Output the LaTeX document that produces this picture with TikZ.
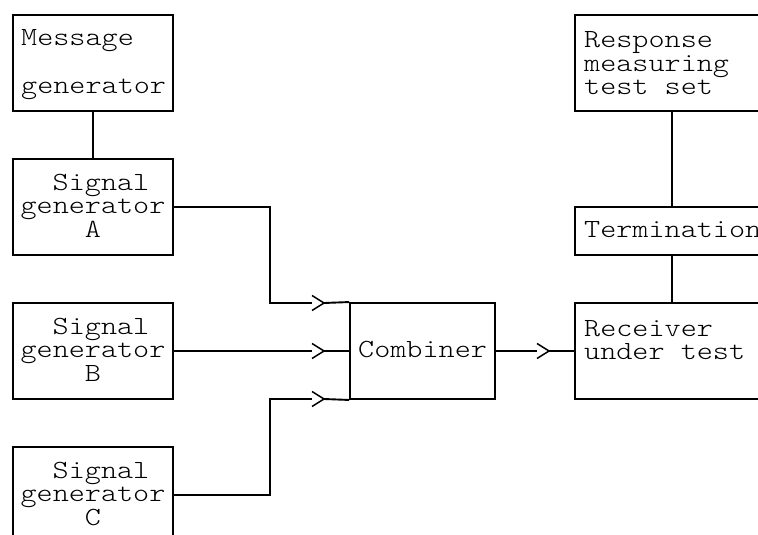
\documentclass[tikz,border=0pt]{standalone}
\usepackage{fontspec}
\newfontfamily\courfont{Latin Modern Mono Light}[FakeStretch=1.17]
\begin{document}
\begin{tikzpicture}[x=1pt,y=-1pt,
  box/.style={draw, line width=1.9pt, inner sep=0pt, minimum width=160pt, minimum height=96pt},
  txt/.style={font=\courfont\fontsize{26.2}{23.5}\selectfont, inner sep=0pt},
  wire/.style={line width=1.9pt},
  chev/.style={line width=1.5pt, line join=miter}]
\useasboundingbox (0,0) rectangle (758,535);
\clip (0,0) rectangle (758,535);
% boxes
\node[box] (msg) at (93,63) {};
\node[box] (sgA) at (93,207) {};
\node[box] (sgB) at (93,351) {};
\node[box] (sgC) at (93,495) {};
\node[box, minimum width=145pt] (comb) at (422.5,351) {};
\node[box, minimum width=225pt] (recv) at (687.5,351) {};
\node[box, minimum width=225pt] (resp) at (687.5,63) {};
\node[box, minimum width=225pt, minimum height=48pt] (term) at (687.5,231) {};
% texts
\node[txt, anchor=base west] (t1) at (21,46) {Message};
\node[txt, anchor=base west] (t2) at (21,93) {generator};
\foreach \n/\y/\l in {a/190/A, b/334/B, c/478/C}{
  \node[txt, anchor=base] (s\n1) at (101,\y) {Signal};
  \node[txt, anchor=base] (s\n2) at (93,\y+23.5) {generator};
  \node[txt, anchor=base] (s\n3) at (93,\y+47) {\l};
}
\node[txt, anchor=base west] (tc) at (358,357) {Combiner};
\node[txt, anchor=base west] (tr1) at (584,336) {Receiver};
\node[txt, anchor=base west] (tr2) at (584,359.5) {under test};
\node[txt, anchor=base west] (tp1) at (584,48) {Response};
\node[txt, anchor=base west] (tp2) at (584,71.5) {measuring};
\node[txt, anchor=base west] (tp3) at (584,95) {test set};
\node[txt, anchor=base west] (tt) at (584,237) {Termination};
% coordinates
\coordinate (jx) at (270,0);
\coordinate (vx) at (672,0);
\coordinate (cA) at (312,303);
\coordinate (cB) at (312,351);
\coordinate (cC) at (312,399);
\coordinate (cR) at (537,351);
% connectors
\draw[wire] (msg.south) -- (sgA.north);
\draw[wire] (sgA.east) -| (jx |- sgA.east) |- (cA);
\draw[wire] (sgB.east) -- (cB);
\draw[wire] (sgC.east) -| (jx |- sgC.east) |- (cC);
\draw[wire] (comb.east) -- (cR);
\foreach \c in {cA,cB,cC,cR}{
  \draw[chev] (\c) ++(0,-7.5) -- ++(12,7.5) -- ++(-12,7.5);
}
\draw[wire] ([xshift=12pt]cA) -- (comb.north west);
\draw[wire] ([xshift=12pt]cB) -- (comb.west);
\draw[wire] ([xshift=12pt]cC) -- (comb.south west);
\draw[wire] ([xshift=12pt]cR) -- (recv.west);
\draw[wire] (resp.south -| vx) -- (term.north -| vx);
\draw[wire] (term.south -| vx) -- (recv.north -| vx);
\end{tikzpicture}
\end{document}
